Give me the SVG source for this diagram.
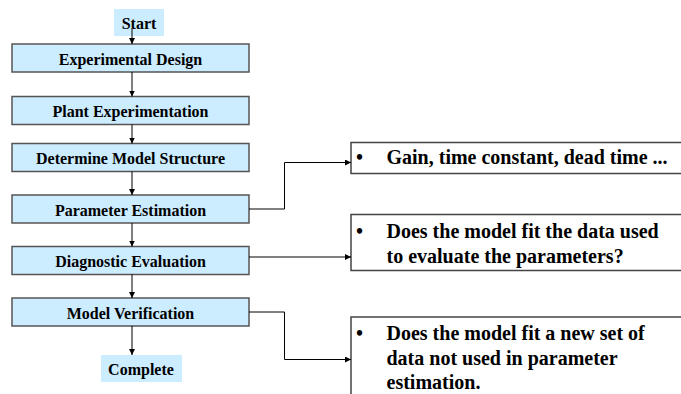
<svg xmlns="http://www.w3.org/2000/svg" width="681" height="394" viewBox="0 0 681 394">
  <defs>
    <marker id="arrow" viewBox="0 0 6 6" refX="6" refY="3" markerWidth="6" markerHeight="6" markerUnits="userSpaceOnUse" orient="auto">
      <path d="M0,0 L6,3 L0,6 Z" fill="#000"/>
    </marker>
    <style>
      .step { fill: #CCECFF; stroke: #555; stroke-width: 1.5; }
      .term { fill: #CCECFF; stroke: none; }
      .note { fill: #fff; stroke: #444; stroke-width: 1.5; }
      text { font-family: 'Liberation Serif', 'DejaVu Serif', serif; font-weight: bold; fill: #000; }
      .lbl { font-size: 16px; text-anchor: middle; }
      .txt { font-size: 20px; }
      .conn { fill: none; stroke: #000; stroke-width: 1; marker-end: url(#arrow); }
    </style>
  </defs>
  <rect width="681" height="394" fill="#fff"/>

  <!-- flow steps -->
  <g id="start">
    <rect class="term" x="114" y="9" width="50" height="27"/>
    <text class="lbl" x="139" y="29">Start</text>
  </g>
  <g id="experimental-design">
    <rect class="step" x="12" y="44" width="237" height="28"/>
    <text class="lbl" x="130.5" y="64.5">Experimental Design</text>
  </g>
  <g id="plant-experimentation">
    <rect class="step" x="12" y="96.5" width="237" height="28"/>
    <text class="lbl" x="130.5" y="117">Plant Experimentation</text>
  </g>
  <g id="determine-model-structure">
    <rect class="step" x="12" y="143.5" width="237" height="28"/>
    <text class="lbl" x="130.5" y="164">Determine Model Structure</text>
  </g>
  <g id="parameter-estimation">
    <rect class="step" x="12" y="195" width="237" height="28"/>
    <text class="lbl" x="130.5" y="215.5">Parameter Estimation</text>
  </g>
  <g id="diagnostic-evaluation">
    <rect class="step" x="12" y="246.5" width="237" height="28"/>
    <text class="lbl" x="130.5" y="267">Diagnostic Evaluation</text>
  </g>
  <g id="model-verification">
    <rect class="step" x="12" y="298" width="237" height="28"/>
    <text class="lbl" x="130.5" y="318.5">Model Verification</text>
  </g>
  <g id="complete">
    <rect class="term" x="101" y="355" width="81" height="27"/>
    <text class="lbl" x="141" y="375">Complete</text>
  </g>

  <!-- side notes -->
  <g id="note-parameters">
    <rect class="note" x="351" y="142.5" width="345" height="31"/>
    <text class="txt" x="356" y="163.5">•</text>
    <text class="txt" x="386.5" y="163.5">Gain, time constant, dead time ...</text>
  </g>
  <g id="note-diagnostic">
    <rect class="note" x="351" y="214.5" width="345" height="56"/>
    <text class="txt" x="356" y="237.5">•</text>
    <text class="txt" x="386.5" y="237.5">Does the model fit the data used</text>
    <text class="txt" x="386.5" y="262.5">to evaluate the parameters?</text>
  </g>
  <g id="note-verification">
    <rect class="note" x="351" y="317" width="345" height="90"/>
    <text class="txt" x="356" y="340">•</text>
    <text class="txt" x="386.5" y="340">Does the model fit a new set of</text>
    <text class="txt" x="386.5" y="364.5">data not used in parameter</text>
    <text class="txt" x="386.5" y="389">estimation.</text>
  </g>

  <!-- connectors -->
  <g id="connectors">
    <path class="conn" d="M132,28 V44"/>
    <path class="conn" d="M132,72 V96.5"/>
    <path class="conn" d="M132,124.5 V143.5"/>
    <path class="conn" d="M132,171.5 V195"/>
    <path class="conn" d="M132,223 V246.5"/>
    <path class="conn" d="M132,274.5 V298"/>
    <path class="conn" d="M132,326 V355"/>
    <path class="conn" d="M249,209 H284.5 V162.5 H351"/>
    <path class="conn" d="M249,257 H351"/>
    <path class="conn" d="M249,312 H284.5 V359.5 H351"/>
  </g>
</svg>
